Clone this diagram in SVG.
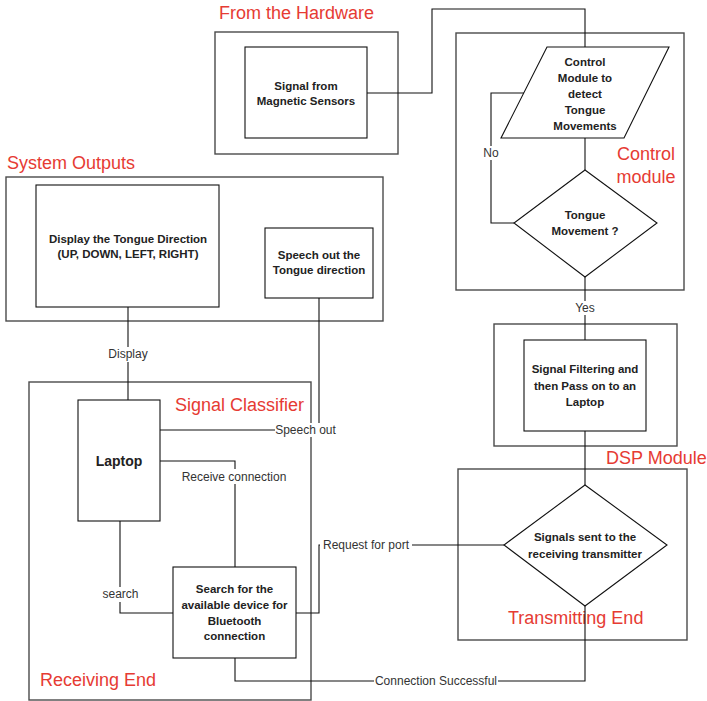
<svg xmlns="http://www.w3.org/2000/svg" width="707" height="701" viewBox="0 0 707 701">
<style>
.bg{fill:#fff}
.box{fill:none;stroke:#4a4a4a;stroke-width:1.4}
.node{fill:#fff;stroke:#111;stroke-width:1.1}
.con{fill:none;stroke:#111;stroke-width:1.1}
.t{font-family:"Liberation Sans",Arial,sans-serif;font-size:11.5px;font-weight:bold;fill:#222;text-anchor:middle}
.lbl{font-family:"Liberation Sans",Arial,sans-serif;font-size:12px;fill:#333;text-anchor:middle}
.title{font-family:"Liberation Sans",Arial,sans-serif;font-size:18px;fill:#e63b33}
.lb{fill:#fff}
</style>
<rect class="bg" x="0" y="0" width="707" height="701"/>

<g id="containers">
  <g id="hardware-box"><rect class="box" x="215" y="32" width="183" height="122"/><text class="title" x="219" y="18.5">From the Hardware</text></g>
  <g id="control-box"><rect class="box" x="456" y="33" width="228" height="257"/><text class="title" x="646" y="159.5" text-anchor="middle">Control</text><text class="title" x="646" y="183" text-anchor="middle">module</text></g>
  <g id="outputs-box"><rect class="box" x="6" y="177" width="377" height="144"/><text class="title" x="7" y="169">System Outputs</text></g>
  <g id="dsp-box"><rect class="box" x="494" y="324" width="183" height="122"/><text class="title" x="606" y="464">DSP Module</text></g>
  <g id="classifier-box"><rect class="box" x="29" y="382" width="282" height="318"/><text class="title" x="175" y="411">Signal Classifier</text><text class="title" x="40" y="686">Receiving End</text></g>
  <g id="transmit-box"><rect class="box" x="458" y="469" width="229" height="171"/><text class="title" x="508" y="624">Transmitting End</text></g>
</g>

<g id="connectors">
  <path class="con" d="M367,93 H432 V9 H585 V47"/>
  <path class="con" d="M585,138 V170"/>
  <path class="con" d="M524,93 H491 V223 H514"/>
  <path class="con" d="M585,277 V340"/>
  <path class="con" d="M585,431 V485"/>
  <path class="con" d="M585,606 V681 H235 V658"/>
  <path class="con" d="M504,545 H319 V613 H296"/>
  <path class="con" d="M128,307 V400"/>
  <path class="con" d="M319,298 V430 H160"/>
  <path class="con" d="M160,461 H235 V567"/>
  <path class="con" d="M120,521 V613 H173"/>
</g>

<g id="n-sensors"><rect class="node" x="245" y="47" width="122" height="91"/><text class="t" x="306" y="89.5">Signal from</text><text class="t" x="306" y="105">Magnetic Sensors</text></g>

<g id="n-control"><polygon class="node" points="547,47 669,47 624,138 501,138"/>
<text class="t" x="585" y="65.5">Control</text><text class="t" x="585" y="81.5">Module to</text><text class="t" x="585" y="97.5">detect</text><text class="t" x="585" y="113.5">Tongue</text><text class="t" x="585" y="129.5">Movements</text></g>

<g id="n-decision"><polygon class="node" points="585,170 657,223 585,277 514,223"/><text class="t" x="585" y="218.5">Tongue</text><text class="t" x="585" y="235">Movement ?</text></g>

<g id="n-filter"><rect class="node" x="524" y="340" width="122" height="91"/><text class="t" x="585" y="373">Signal Filtering and</text><text class="t" x="585" y="389.5">then Pass on to an</text><text class="t" x="585" y="406">Laptop</text></g>

<g id="n-transmit"><polygon class="node" points="585,485 667,545 585,606 504,545"/><text class="t" x="585" y="541">Signals sent to the</text><text class="t" x="585" y="557.5">receiving transmitter</text></g>

<g id="n-display"><rect class="node" x="36" y="185" width="183" height="122"/><text class="t" x="128" y="242.5">Display the Tongue Direction</text><text class="t" x="128" y="258">(UP, DOWN, LEFT, RIGHT)</text></g>

<g id="n-speech"><rect class="node" x="265" y="228" width="108" height="70"/><text class="t" x="319" y="258.5">Speech out the</text><text class="t" x="319" y="274">Tongue direction</text></g>

<g id="n-laptop"><rect class="node" x="78" y="400" width="82" height="121"/><text class="t" x="119" y="465.5" style="font-size:14px">Laptop</text></g>

<g id="n-search"><rect class="node" x="173" y="567" width="123" height="91"/><text class="t" x="234.5" y="592.5">Search for the</text><text class="t" x="234.5" y="608.5">available device for</text><text class="t" x="234.5" y="624.5">Bluetooth</text><text class="t" x="234.5" y="640">connection</text></g>

<g id="labels">
  <rect class="lb" x="482" y="146" width="18" height="14"/><text class="lbl" x="491" y="157">No</text>
  <rect class="lb" x="573" y="301" width="24" height="14"/><text class="lbl" x="585" y="312">Yes</text>
  <rect class="lb" x="106" y="347" width="44" height="15"/><text class="lbl" x="128" y="358">Display</text>
  <rect class="lb" x="275" y="423" width="62" height="14"/><text class="lbl" x="305.5" y="434">Speech out</text>
  <rect class="lb" x="180" y="469" width="108" height="15"/><text class="lbl" x="234" y="481">Receive connection</text>
  <rect class="lb" x="101" y="587" width="39" height="15"/><text class="lbl" x="120.5" y="597.5">search</text>
  <rect class="lb" x="320" y="538" width="92" height="14"/><text class="lbl" x="366" y="549">Request for port</text>
  <rect class="lb" x="374" y="674" width="124" height="14"/><text class="lbl" x="436" y="685">Connection Successful</text>
</g>
</svg>
